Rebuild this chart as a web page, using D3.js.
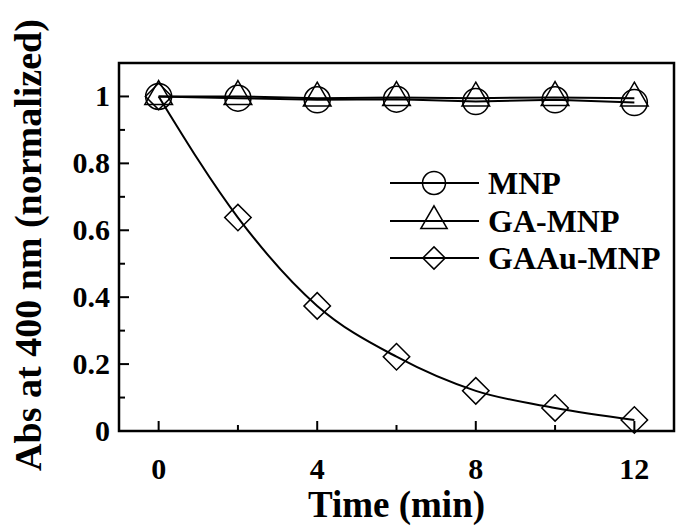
<!DOCTYPE html>
<html>
<head>
<meta charset="utf-8">
<script src="https://cdn.jsdelivr.net/npm/d3@7"></script>
<style>
  body { margin: 0; background: #fff; }
  svg text { font-family: "Liberation Serif", "Times New Roman", serif; font-weight: bold; fill: #000; }
</style>
</head>
<body>
<svg id="chart" width="685" height="528"></svg>
<script>
// data
const times = [0, 2, 4, 6, 8, 10, 12];
const mnp = [1.0, 0.995, 0.99, 0.992, 0.985, 0.99, 0.982];
const gaMnp = [1.0, 1.0, 0.995, 0.997, 0.995, 0.997, 0.995];
const gaauMnp = [1.0, 0.638, 0.374, 0.222, 0.12, 0.069, 0.033];
const seriesNames = ["MNP", "GA-MNP", "GAAu-MNP"];
const xTicks = [0, 4, 8, 12];
const xMinor = [2, 6, 10];
const yTicks = [0, 0.2, 0.4, 0.6, 0.8, 1];
const yMinor = [0.1, 0.3, 0.5, 0.7, 0.9];

const MARGIN = { LEFT: 119, RIGHT: 11, TOP: 63, BOTTOM: 97 };
const width = 685, height = 528;

const svg = d3.select("#chart");

const xScale = d3.scaleLinear().domain([-1, 13]).range([MARGIN.LEFT, width - MARGIN.RIGHT]);
const yScale = d3.scaleLinear().domain([0, 1.1]).range([height - MARGIN.BOTTOM, MARGIN.TOP]);

// marker shapes
const shapes = {
  "MNP": d3.symbol().type(d3.symbolCircle),
  "GA-MNP": d3.symbol().type(d3.symbolTriangle),
  "GAAu-MNP": d3.symbol().type(d3.symbolSquare)
};
const sizes = { "MNP": 531, "GA-MNP": 330, "GAAu-MNP": 350 };
const legendSizes = { "MNP": 415, "GA-MNP": 300, "GAAu-MNP": 250 };
const rot = { "MNP": 0, "GA-MNP": 0, "GAAu-MNP": 45 };

const data = [
  { name: "MNP", values: mnp, curve: d3.curveLinear },
  { name: "GA-MNP", values: gaMnp, curve: d3.curveLinear },
  { name: "GAAu-MNP", values: gaauMnp, curve: d3.curveMonotoneX }
];

// ticks (inward)
const bottom = height - MARGIN.BOTTOM;
svg.append("g").selectAll("line").data(xTicks).join("line")
  .attr("x1", d => xScale(d)).attr("x2", d => xScale(d))
  .attr("y1", bottom).attr("y2", bottom - 10)
  .attr("stroke", "#000").attr("stroke-width", 2);
svg.append("g").selectAll("line").data(xMinor).join("line")
  .attr("x1", d => xScale(d)).attr("x2", d => xScale(d))
  .attr("y1", bottom).attr("y2", bottom - 6)
  .attr("stroke", "#000").attr("stroke-width", 2);
svg.append("g").selectAll("line").data(yTicks).join("line")
  .attr("x1", MARGIN.LEFT).attr("x2", MARGIN.LEFT + 10)
  .attr("y1", d => yScale(d)).attr("y2", d => yScale(d))
  .attr("stroke", "#000").attr("stroke-width", 2);
svg.append("g").selectAll("line").data(yMinor).join("line")
  .attr("x1", MARGIN.LEFT).attr("x2", MARGIN.LEFT + 6)
  .attr("y1", d => yScale(d)).attr("y2", d => yScale(d))
  .attr("stroke", "#000").attr("stroke-width", 2);

// tick labels
svg.append("g").selectAll("text").data(xTicks).join("text")
  .attr("x", d => xScale(d)).attr("y", bottom + 48)
  .attr("text-anchor", "middle").style("font-size", "30px")
  .text(d => d);
svg.append("g").selectAll("text").data(yTicks).join("text")
  .attr("x", MARGIN.LEFT - 9).attr("y", d => yScale(d) + 10)
  .attr("text-anchor", "end").style("font-size", "30px")
  .text(d => d);

// lines
const line = d3.line().x((d, i) => xScale(times[i])).y(d => yScale(d));
svg.append("g").selectAll("path").data(data).join("path")
  .attr("d", d => line.curve(d.curve)(d.values))
  .attr("fill", "none").attr("stroke", "#000").attr("stroke-width", 2);

// markers
data.forEach(function (s) {
  svg.append("g").selectAll("path").data(s.values).join("path")
    .attr("d", shapes[s.name].size(sizes[s.name])())
    .attr("transform", (d, i) => "translate(" + xScale(times[i]) + "," + yScale(d) + ") rotate(" + rot[s.name] + ")")
    .attr("fill", "none").attr("stroke", "#000").attr("stroke-width", 1.5);
});

// frame
svg.append("rect")
  .attr("x", MARGIN.LEFT).attr("y", MARGIN.TOP)
  .attr("width", width - MARGIN.RIGHT - MARGIN.LEFT)
  .attr("height", height - MARGIN.BOTTOM - MARGIN.TOP)
  .attr("fill", "none").attr("stroke", "#000").attr("stroke-width", 2.5);

// legend
const legendY = [183, 221, 258];
const legend = svg.append("g").selectAll("g").data(seriesNames).join("g")
  .attr("transform", (d, i) => "translate(0," + legendY[i] + ")");
legend.append("line").attr("x1", 390).attr("x2", 479).attr("y1", 0).attr("y2", 0)
  .attr("stroke", "#000").attr("stroke-width", 2.2);
legend.append("path")
  .attr("d", d => shapes[d].size(legendSizes[d])())
  .attr("transform", d => "translate(434,0) rotate(" + rot[d] + ")")
  .attr("fill", "none").attr("stroke", "#000").attr("stroke-width", 1.5);
legend.append("text").attr("x", 488).attr("y", 11)
  .style("font-size", "32px").text(d => d);

// axis titles
svg.append("text")
  .attr("x", xScale(6)).attr("y", 517)
  .attr("text-anchor", "middle").style("font-size", "37px")
  .text("Time (min)");
svg.append("text")
  .attr("transform", "translate(41,245) rotate(-90)")
  .attr("text-anchor", "middle").style("font-size", "38px")
  .text("Abs at 400 nm (normalized)");
</script>
</body>
</html>
